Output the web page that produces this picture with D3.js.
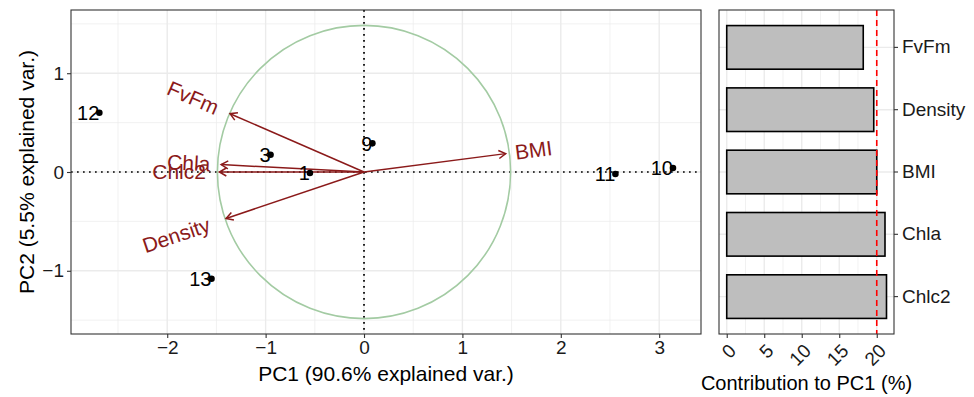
<!DOCTYPE html>
<html>
<head>
<meta charset="utf-8">
<script src="https://cdn.jsdelivr.net/npm/d3@7/dist/d3.min.js"></script>
<style>
  body { margin: 0; background: #fff; }
  svg { display: block; font-family: "Liberation Sans", Arial, sans-serif; }
</style>
</head>
<body>
<div id="chart"></div>
<script>
// PCA scores (samples)
var sampleIds = ['1', '3', '9', '10', '11', '12', '13'];
var samplePC1 = [-0.55, -0.95, 0.085, 3.14, 2.555, -2.69, -1.55];
var samplePC2 = [-0.01, 0.175, 0.29, 0.04, -0.02, 0.60, -1.08];

// variable loadings (arrows)
var varNames = ['FvFm', 'Chla', 'Chlc2', 'Density', 'BMI'];
var varPC1 = [-1.362, -1.452, -1.47, -1.402, 1.44];
var varPC2 = [0.59, 0.075, 0.0, -0.47, 0.186];
var circleRadius = 1.49;

// contribution to PC1 (%)
var contribVars = ['FvFm', 'Density', 'BMI', 'Chla', 'Chlc2'];
var contribValues = [18.2, 19.6, 20.0, 21.1, 21.3];
var contribRef = 20;

var xTicks = [-2, -1, 0, 1, 2, 3];
var yTicks = [-1, 0, 1];
var xMinor = [-2.5, -1.5, -0.5, 0.5, 1.5, 2.5];
var yMinor = [-1.5, -0.5, 0.5, 1.5];
var cTicks = [0, 5, 10, 15, 20];
var cMinor = [2.5, 7.5, 12.5, 17.5];

var W = 974, H = 397;
var gridCol = '#ebebeb', borderCol = '#333333', darkred = '#8b1a1a';

var svg = d3.select('#chart').append('svg')
  .attr('width', W).attr('height', H);

svg.append('defs').append('marker')
  .attr('id', 'arr')
  .attr('markerUnits', 'userSpaceOnUse')
  .attr('markerWidth', 20).attr('markerHeight', 20)
  .attr('refX', 0).attr('refY', 0)
  .attr('viewBox', '-10 -10 20 20')
  .attr('orient', 'auto')
  .append('path')
  .attr('d', 'M-6.93,-4L0,0L-6.93,4')
  .attr('fill', 'none')
  .attr('stroke', darkred)
  .attr('stroke-width', 1.5);

// ---------- left panel: biplot ----------
var L = { left: 71, right: 701, top: 10, bottom: 334 };
var x = d3.scaleLinear().domain([-2.978, 3.425]).range([L.left, L.right]);
var y = d3.scaleLinear().domain([-1.64, 1.64]).range([L.bottom, L.top]);

var gl = svg.append('g');

gl.append('g').selectAll('line').data(xMinor).join('line')
  .attr('x1', function (d) { return x(d); }).attr('x2', function (d) { return x(d); })
  .attr('y1', L.top).attr('y2', L.bottom)
  .attr('stroke', gridCol).attr('stroke-width', 0.7);
gl.append('g').selectAll('line').data(yMinor).join('line')
  .attr('y1', function (d) { return y(d); }).attr('y2', function (d) { return y(d); })
  .attr('x1', L.left).attr('x2', L.right)
  .attr('stroke', gridCol).attr('stroke-width', 0.7);
gl.append('g').selectAll('line').data(xTicks).join('line')
  .attr('x1', function (d) { return x(d); }).attr('x2', function (d) { return x(d); })
  .attr('y1', L.top).attr('y2', L.bottom)
  .attr('stroke', gridCol).attr('stroke-width', 1.4);
gl.append('g').selectAll('line').data(yTicks).join('line')
  .attr('y1', function (d) { return y(d); }).attr('y2', function (d) { return y(d); })
  .attr('x1', L.left).attr('x2', L.right)
  .attr('stroke', gridCol).attr('stroke-width', 1.4);

// dotted reference lines
gl.append('line')
  .attr('x1', x(0)).attr('x2', x(0)).attr('y1', L.top).attr('y2', L.bottom)
  .attr('stroke', '#000').attr('stroke-width', 1.7).attr('stroke-dasharray', '1.7,4.3');
gl.append('line')
  .attr('y1', y(0)).attr('y2', y(0)).attr('x1', L.left).attr('x2', L.right)
  .attr('stroke', '#000').attr('stroke-width', 1.7).attr('stroke-dasharray', '1.7,4.3');

// correlation circle
gl.append('circle')
  .attr('cx', x(0)).attr('cy', y(0))
  .attr('r', x(circleRadius) - x(0))
  .attr('fill', 'none').attr('stroke', '#a3cba3').attr('stroke-width', 1.6);

// arrows
var vars = varNames.map(function (n, i) { return { name: n, px: varPC1[i], py: varPC2[i] }; });
gl.append('g').selectAll('line').data(vars).join('line')
  .attr('x1', x(0)).attr('y1', y(0))
  .attr('x2', function (d) { return x(d.px); })
  .attr('y2', function (d) { return y(d.py); })
  .attr('stroke', darkred).attr('stroke-width', 1.5)
  .attr('marker-end', 'url(#arr)');

// arrow labels, rotated along the arrow, hjust 1.25 / -0.25
var vlab = gl.append('g').selectAll('text').data(vars).join('text')
  .attr('font-size', 21)
  .attr('fill', darkred)
  .attr('dy', '0.35em')
  .attr('text-anchor', function (d) { return d.px < 0 ? 'end' : 'start'; })
  .text(function (d) { return d.name; });
vlab.each(function (d) {
  var len = this.getComputedTextLength();
  var ang = -Math.atan(d.py / d.px) * 180 / Math.PI;
  d3.select(this)
    .attr('dx', (d.px < 0 ? -1 : 1) * 0.25 * len)
    .attr('transform', 'translate(' + x(d.px) + ',' + y(d.py) + ') rotate(' + ang + ')');
});

// sample points
var samples = sampleIds.map(function (s, i) { return { id: s, px: samplePC1[i], py: samplePC2[i] }; });
gl.append('g').selectAll('circle').data(samples).join('circle')
  .attr('cx', function (d) { return x(d.px); })
  .attr('cy', function (d) { return y(d.py); })
  .attr('r', 3.3).attr('fill', '#000');
gl.append('g').selectAll('text').data(samples).join('text')
  .attr('x', function (d) { return x(d.px); })
  .attr('y', function (d) { return y(d.py); })
  .attr('dy', '0.36em')
  .attr('text-anchor', 'end')
  .attr('font-size', 20)
  .attr('fill', '#000')
  .text(function (d) { return d.id; });

gl.append('rect')
  .attr('x', L.left).attr('y', L.top)
  .attr('width', L.right - L.left).attr('height', L.bottom - L.top)
  .attr('fill', 'none').attr('stroke', borderCol).attr('stroke-width', 1.1);

// axes
var xAxis = gl.append('g')
  .attr('transform', 'translate(0,' + L.bottom + ')')
  .call(d3.axisBottom(x).tickValues(xTicks).tickSize(4).tickPadding(3)
    .tickFormat(function (d) { return d < 0 ? '\u2212' + Math.abs(d) : d; }));
var yAxis = gl.append('g')
  .attr('transform', 'translate(' + L.left + ',0)')
  .call(d3.axisLeft(y).tickValues(yTicks).tickSize(4).tickPadding(3)
    .tickFormat(function (d) { return d < 0 ? '\u2212' + Math.abs(d) : d; }));
[xAxis, yAxis].forEach(function (a) {
  a.select('.domain').remove();
  a.selectAll('line').attr('stroke', borderCol).attr('stroke-width', 1.1);
  a.selectAll('text').attr('font-size', 19).attr('fill', '#1a1a1a')
    .attr('font-family', '"Liberation Sans", Arial, sans-serif');
});

gl.append('text')
  .attr('x', (L.left + L.right) / 2).attr('y', 381)
  .attr('text-anchor', 'middle').attr('font-size', 21).attr('fill', '#000')
  .text('PC1 (90.6% explained var.)');
gl.append('text')
  .attr('transform', 'translate(34,' + (L.top + L.bottom) / 2 + ') rotate(-90)')
  .attr('text-anchor', 'middle').attr('font-size', 21).attr('fill', '#000')
  .text('PC2 (5.5% explained var.)');

// ---------- right panel: contributions ----------
var R = { left: 719, right: 894, top: 10, bottom: 334 };
var cx = d3.scaleLinear().domain([-1.03, 22.3]).range([R.left, R.right]);
var cy = d3.scaleBand().domain(contribVars).range([R.top, R.bottom])
  .paddingInner(0.3).paddingOuter(0.25);

var gr = svg.append('g');
gr.append('g').selectAll('line').data(cMinor).join('line')
  .attr('x1', function (d) { return cx(d); }).attr('x2', function (d) { return cx(d); })
  .attr('y1', R.top).attr('y2', R.bottom)
  .attr('stroke', gridCol).attr('stroke-width', 0.7);
gr.append('g').selectAll('line').data(cTicks).join('line')
  .attr('x1', function (d) { return cx(d); }).attr('x2', function (d) { return cx(d); })
  .attr('y1', R.top).attr('y2', R.bottom)
  .attr('stroke', gridCol).attr('stroke-width', 1.4);
gr.append('g').selectAll('line').data(contribVars).join('line')
  .attr('y1', function (d) { return cy(d) + cy.bandwidth() / 2; })
  .attr('y2', function (d) { return cy(d) + cy.bandwidth() / 2; })
  .attr('x1', R.left).attr('x2', R.right)
  .attr('stroke', gridCol).attr('stroke-width', 1.4);

gr.append('g').selectAll('rect').data(contribVars).join('rect')
  .attr('x', cx(0))
  .attr('y', function (d) { return cy(d); })
  .attr('width', function (d, i) { return cx(contribValues[i]) - cx(0); })
  .attr('height', cy.bandwidth())
  .attr('fill', '#bebebe').attr('stroke', '#000').attr('stroke-width', 1.6);

gr.append('line')
  .attr('x1', cx(contribRef)).attr('x2', cx(contribRef))
  .attr('y1', R.top).attr('y2', R.bottom)
  .attr('stroke', '#ff0000').attr('stroke-width', 1.6).attr('stroke-dasharray', '6,4');

gr.append('rect')
  .attr('x', R.left).attr('y', R.top)
  .attr('width', R.right - R.left).attr('height', R.bottom - R.top)
  .attr('fill', 'none').attr('stroke', borderCol).attr('stroke-width', 1.1);

var cxAxis = gr.append('g')
  .attr('transform', 'translate(0,' + R.bottom + ')')
  .call(d3.axisBottom(cx).tickValues(cTicks).tickSize(4).tickFormat(d3.format('d')));
cxAxis.selectAll('text')
  .attr('y', 0).attr('dy', '0.75em')
  .attr('text-anchor', 'end')
  .attr('transform', 'translate(0,8) rotate(-45)');
var cyAxis = gr.append('g')
  .attr('transform', 'translate(' + R.right + ',0)')
  .call(d3.axisRight(cy).tickSize(4).tickPadding(4));
[cxAxis, cyAxis].forEach(function (a) {
  a.select('.domain').remove();
  a.selectAll('line').attr('stroke', borderCol).attr('stroke-width', 1.1);
  a.selectAll('text').attr('fill', '#1a1a1a')
    .attr('font-family', '"Liberation Sans", Arial, sans-serif');
});
cxAxis.selectAll('text').attr('font-size', 19);
cyAxis.selectAll('text').attr('font-size', 19);

gr.append('text')
  .attr('x', (R.left + R.right) / 2).attr('y', 390)
  .attr('text-anchor', 'middle').attr('font-size', 20).attr('fill', '#000')
  .text('Contribution to PC1 (%)');
</script>
</body>
</html>
